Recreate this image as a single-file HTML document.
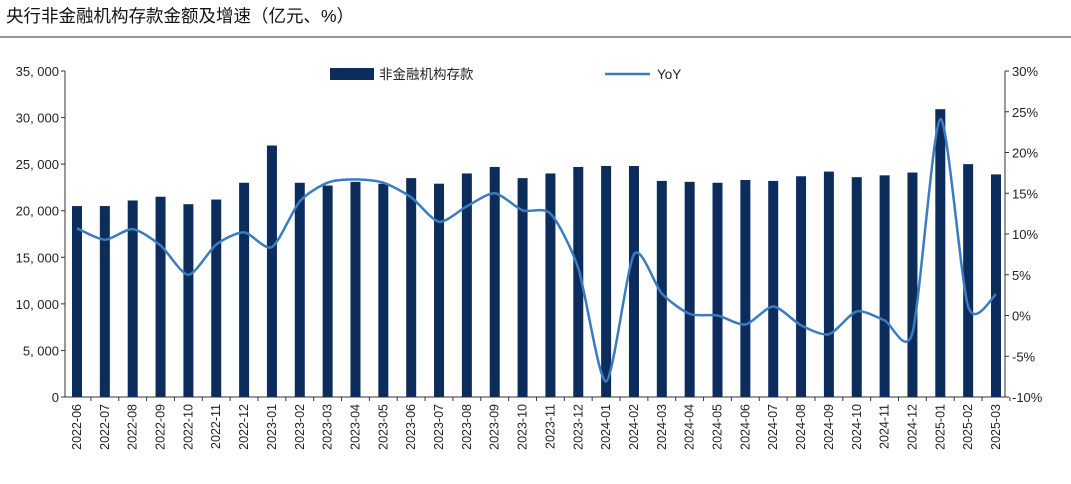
<!DOCTYPE html>
<html><head><meta charset="utf-8"><style>
body{margin:0;background:#fff;width:1071px;height:479px;overflow:hidden;font-family:"Liberation Sans","Noto Sans CJK SC",sans-serif}
</style></head><body>
<svg id="c" width="1071" height="479" xmlns="http://www.w3.org/2000/svg">
<text x="6" y="22" font-size="17.5" fill="#111" font-family="Liberation Sans, Noto Sans CJK SC, sans-serif">央行非金融机构存款金额及增速（亿元、%）</text>
<line x1="0" y1="37" x2="1071" y2="37" stroke="#333" stroke-width="1"/>
<g id="g"></g>
</svg>
<script>
const categories=["2022-06","2022-07","2022-08","2022-09","2022-10","2022-11","2022-12","2023-01","2023-02","2023-03","2023-04","2023-05","2023-06","2023-07","2023-08","2023-09","2023-10","2023-11","2023-12","2024-01","2024-02","2024-03","2024-04","2024-05","2024-06","2024-07","2024-08","2024-09","2024-10","2024-11","2024-12","2025-01","2025-02","2025-03"];
const deposits=[20500,20500,21100,21500,20700,21200,23000,27000,23000,22700,23100,22900,23500,22900,24000,24700,23500,24000,24700,24800,24800,23200,23100,23000,23300,23200,23700,24200,23600,23800,24100,30900,25000,23900];
const yoy=[10.7,9.3,10.6,8.6,5.0,8.7,10.2,8.4,14.0,16.3,16.7,16.3,14.5,11.5,13.4,15.0,12.9,12.5,5.8,-8.1,7.5,2.7,0.2,0,-1.1,1.1,-1.2,-2.3,0.5,-0.6,-2.1,24.1,1.1,2.6];
const leftTicks=[0,5000,10000,15000,20000,25000,30000,35000];
const rightTicks=[-10,-5,0,5,10,15,20,25,30];
const NS="http://www.w3.org/2000/svg",g=document.getElementById('g');
const L=65,R=1005,T=71,B=397;
const x=i=>77+i*(996-77)/(categories.length-1);
const yl=v=>B-(v/35000)*(B-T);
const yr=v=>B-((v+10)/40)*(B-T);
function mk(t,a){const e=document.createElementNS(NS,t);for(const k in a)e.setAttribute(k,a[k]);g.appendChild(e);return e;}
const fmt=v=>v===0?"0":(v/1000|0)+", "+String(v%1000).padStart(3,"0");
let e=mk('line',{x1:L,y1:T,x2:L,y2:B,stroke:'#333'});

e=mk('line',{x1:R,y1:T,x2:R,y2:B,stroke:'#333'});

e=mk('line',{x1:L,y1:B,x2:R,y2:B,stroke:'#333'});

leftTicks.forEach(v=>{const t=mk('text',{x:L-6,y:yl(v)+5,'text-anchor':'end','font-size':13,fill:'#222'});t.textContent=fmt(v);

mk('line',{x1:L-4,y1:yl(v),x2:L,y2:yl(v),stroke:'#333'});});
rightTicks.forEach(v=>{const t=mk('text',{x:R+7,y:yr(v)+5,'font-size':13,fill:'#222'});t.textContent=v+"%";

mk('line',{x1:R,y1:yr(v),x2:R+4,y2:yr(v),stroke:'#333'});});
categories.forEach((c,i)=>{const b=mk('rect',{x:x(i)-5,y:yl(deposits[i]),width:10,height:B-yl(deposits[i]),fill:'#0c2d5c'});

const t=mk('text',{x:0,y:0,'font-size':12.5,fill:'#222','text-anchor':'end',transform:`translate(${x(i)+4},${B+7}) rotate(-90)`});t.textContent=c;

mk('line',{x1:x(i)+13.9,y1:B,x2:x(i)+13.9,y2:B+4,stroke:'#333'});});
const P=yoy.map((v,i)=>[x(i),yr(v)]);
const k=8;
let d=`M${P[0][0]},${P[0][1]}`;
for(let i=0;i<P.length-1;i++){const p0=P[i-1]||P[i],p1=P[i],p2=P[i+1],p3=P[i+2]||p2;
d+=` C${p1[0]+(p2[0]-p0[0])/k},${p1[1]+(p2[1]-p0[1])/k} ${p2[0]-(p3[0]-p1[0])/k},${p2[1]-(p3[1]-p1[1])/k} ${p2[0]},${p2[1]}`;}
e=mk('path',{d:d,fill:'none',stroke:'#3b7cc0','stroke-width':2.5});

e=mk('rect',{x:330,y:68,width:44,height:12,fill:'#0c2d5c'});

e=mk('text',{x:379,y:79,'font-size':13.5,fill:'#222'});e.textContent='非金融机构存款';

e=mk('line',{x1:605,y1:74,x2:650,y2:74,stroke:'#3b7cc0','stroke-width':2.5});

e=mk('text',{x:657,y:79,'font-size':13.5,fill:'#222'});e.textContent='YoY';

</script>
</body></html>
